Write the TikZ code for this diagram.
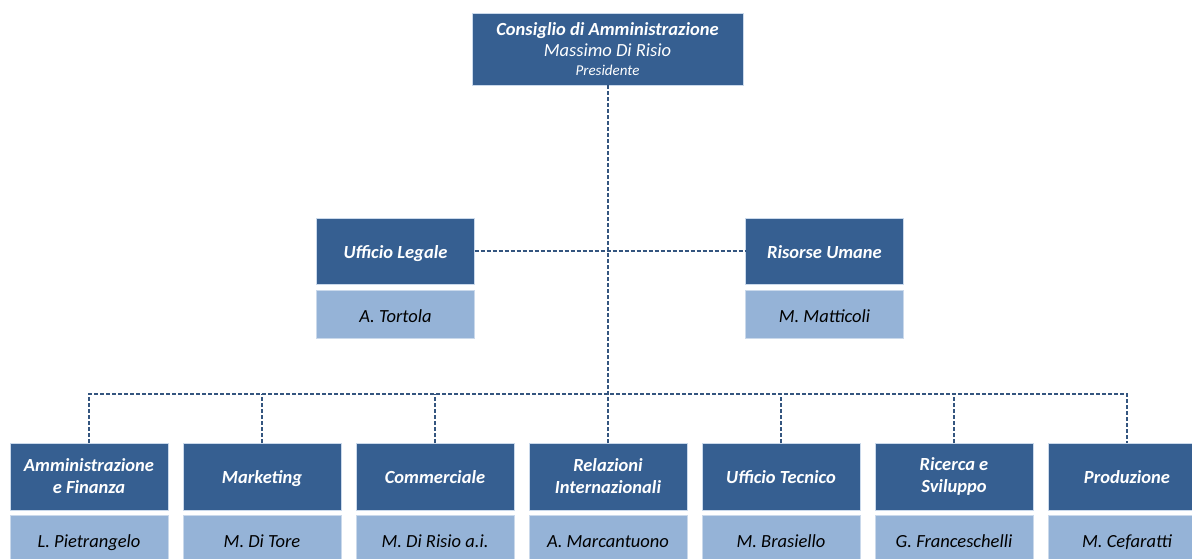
\documentclass[tikz,border=0pt]{standalone}
\usepackage{fontspec}
\setmainfont{Carlito}
\usepackage{tikz}
\usetikzlibrary{positioning}

\definecolor{bluscuro}{HTML}{365F91}
\definecolor{bluchiaro}{HTML}{95B3D7}
\definecolor{blulinea}{HTML}{34557F}

\tikzset{
	ufficio/.style = {fill = bluscuro, draw = bluchiaro!50!white, line width = 0.6pt, text = white,
		minimum width = 158pt, minimum height = 67pt, inner sep = 0pt, outer sep = 0pt, align = center,
		text height = 18pt, text depth = 4pt,
		font = \fontsize{18.5}{22}\selectfont\bfseries\itshape},
	duerighe/.style = {text height = {}, text depth = {}, execute at begin node = \rule{0pt}{17pt}},
	persona/.style = {fill = bluchiaro, draw = bluchiaro!50!white, line width = 0.6pt, text = black,
		minimum width = 158pt, minimum height = 48pt, inner sep = 0pt, outer sep = 0pt,
		text height = 20pt, text depth = 4pt,
		font = \fontsize{18.5}{22}\selectfont\itshape},
	collega/.style = {draw = blulinea, line width = 2pt, dash pattern = on 4pt off 2pt}
}

\begin{document}
\begin{tikzpicture}[x = 1pt, y = -1pt, node distance = 5pt and 15pt]
		\useasboundingbox (0, 0) rectangle (1192, 558);
		\clip (0, 0) rectangle (1192, 558);
		% vertice
		\node[ufficio, minimum width = 271pt, minimum height = 72pt, text height = {}, text depth = {}] (cda) at (607.5, 49)
			{Consiglio di Amministrazione\\[-1pt]
			{\mdseries Massimo Di Risio}\\[-3pt]
			{\mdseries\fontsize{15}{18}\selectfont Presidente}};
		% staff
		\node[ufficio, minimum height = 66pt] (legale) at (395.5, 251) {Ufficio Legale};
		\node[persona, below = 6pt of legale] (tortola) {A. Tortola};
		\node[ufficio, minimum height = 66pt] (risorse) at (824.5, 251) {Risorse Umane};
		\node[persona, below = 6pt of risorse] (matticoli) {M. Matticoli};
		% funzioni
		\node[ufficio, duerighe] (amm) at (89, 476.5) {Amministrazione\\e Finanza};
		\node[ufficio, right = of amm] (mkt) {Marketing};
		\node[ufficio, right = of mkt] (comm) {Commerciale};
		\node[ufficio, duerighe, right = of comm] (rel) {Relazioni\\Internazionali};
		\node[ufficio, right = of rel] (tec) {Ufficio Tecnico};
		\node[ufficio, duerighe, right = of tec] (ric) {Ricerca e\\Sviluppo};
		\node[ufficio, right = of ric] (prod) {Produzione};
		\node[persona, below = of amm] (pietrangelo) {L. Pietrangelo};
		\node[persona, below = of mkt] (ditore) {M. Di Tore};
		\node[persona, below = of comm] (dirisio) {M. Di Risio a.i.};
		\node[persona, below = of rel] (marcantuono) {A. Marcantuono};
		\node[persona, below = of tec] (brasiello) {M. Brasiello};
		\node[persona, below = of ric] (franceschelli) {G. Franceschelli};
		\node[persona, below = of prod] (cefaratti) {M. Cefaratti};
		% collegamenti
		\coordinate (bus) at (607.5, 394);
		\draw[collega] (cda.south) -- (bus);
		\draw[collega] (legale.east) -- (risorse.west);
		\draw[collega] (amm.north) -- (amm.north |- bus) -- (prod.north |- bus) -- (prod.north);
		\draw[collega] (mkt.north) -- (mkt.north |- bus);
		\draw[collega] (comm.north) -- (comm.north |- bus);
		\draw[collega] (rel.north) -- (rel.north |- bus);
		\draw[collega] (tec.north) -- (tec.north |- bus);
		\draw[collega] (ric.north) -- (ric.north |- bus);
		\end{tikzpicture}
\end{document}
